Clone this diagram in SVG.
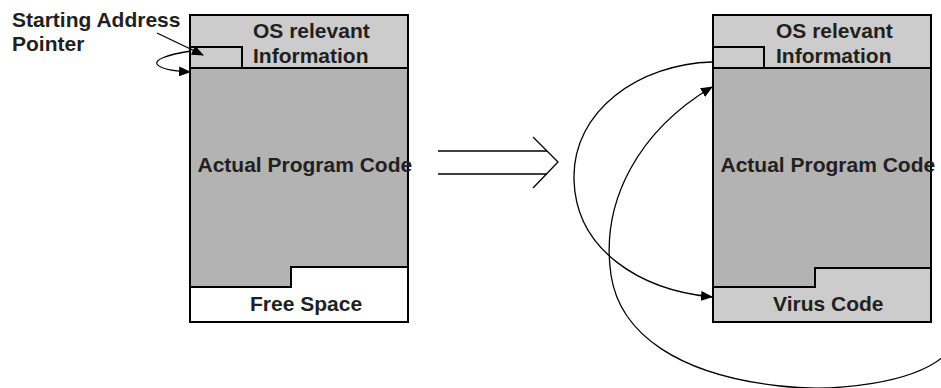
<svg xmlns="http://www.w3.org/2000/svg" width="941" height="388" viewBox="0 0 941 388">
<defs>
<style>
.t{font-family:"Liberation Sans",Arial,sans-serif;font-weight:bold;font-size:21px;fill:#231f20}
.hdr{fill:#cccccc}
.code{fill:#b3b3b3}
.edge{fill:none;stroke:#000;stroke-width:2}
.con{fill:none;stroke:#000;stroke-width:1.3}
</style>
<marker id="ah" markerWidth="12" markerHeight="10" refX="11" refY="5" orient="auto" markerUnits="userSpaceOnUse">
<path d="M0,0 L12,5 L0,10 Z" fill="#000"/>
</marker>
</defs>
<rect width="941" height="388" fill="#fff"/>

<g id="left-memory">
<rect x="190" y="15" width="218" height="307" fill="#fff"/>
<rect class="hdr" x="190" y="15" width="218" height="53"/>
<polygon class="code" points="190,68 408,68 408,267 291,267 291,287 190,287"/>
<rect class="edge" x="190" y="47" width="52" height="21"/>
<polyline class="edge" points="190,287 291,287 291,267 408,267"/>
<line class="edge" x1="190" y1="68" x2="408" y2="68"/>
<rect class="edge" x="190" y="15" width="218" height="307"/>
<text class="t" x="253" y="37.5">OS relevant</text>
<text class="t" x="253" y="62.5">Information</text>
<text class="t" x="197.5" y="172">Actual Program Code</text>
<text class="t" x="250" y="311">Free Space</text>
</g>

<g id="right-memory">
<rect class="hdr" x="713" y="15" width="218" height="307"/>
<rect class="hdr" x="713" y="15" width="218" height="53"/>
<polygon class="code" points="713,68 931,68 931,268 815,268 815,287 713,287"/>
<rect class="edge" x="713" y="47" width="51" height="21"/>
<polyline class="edge" points="713,287 815,287 815,268 931,268"/>
<line class="edge" x1="713" y1="68" x2="931" y2="68"/>
<rect class="edge" x="713" y="15" width="218" height="307"/>
<text class="t" x="776" y="37.5">OS relevant</text>
<text class="t" x="776" y="62.5">Information</text>
<text class="t" x="720.5" y="172">Actual Program Code</text>
<text class="t" x="773" y="311">Virus Code</text>
</g>

<g id="label">
<text class="t" x="12" y="27">Starting Address</text>
<text class="t" x="12" y="51">Pointer</text>
</g>

<g id="transform-arrow">
<line class="con" x1="438" y1="151" x2="547" y2="151"/>
<line class="con" x1="438" y1="174" x2="547" y2="174"/>
<polyline class="con" points="533,137 558,162 533,188"/>
</g>

<g id="connectors">
<path class="con" d="M157,33 L203,55" marker-end="url(#ah)"/>
<path class="con" d="M191,51 C165,55 155,60 157,64 C160,69 172,71 190,72" marker-end="url(#ah)"/>
<path class="con" d="M712,62 C640,64 572,110 574,180 C576,250 640,290 712,297" marker-end="url(#ah)"/>
<path class="con" d="M950,350 C920,385 830,392 780,386 C680,375 620,335 611,275 C600,200 640,130 712,87" marker-end="url(#ah)"/>
</g>
</svg>
